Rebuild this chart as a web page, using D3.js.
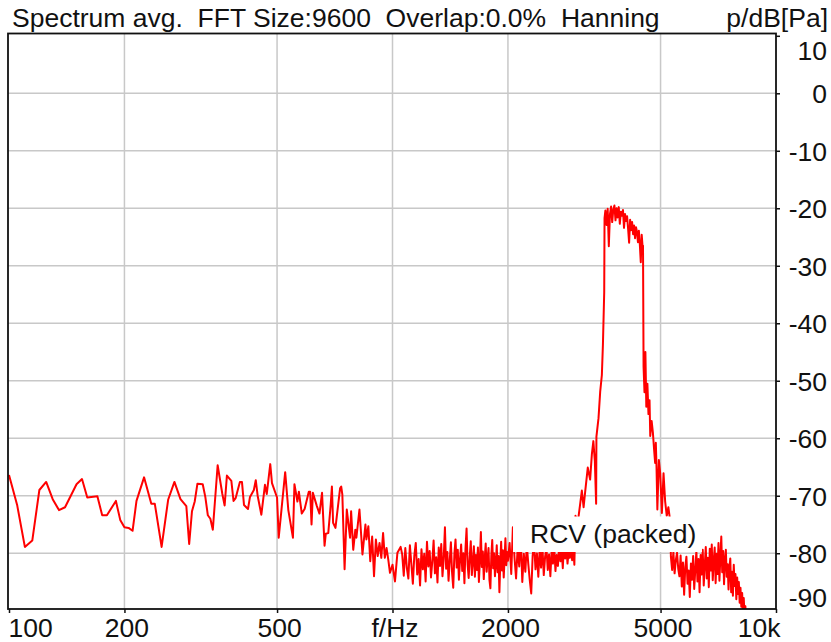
<!DOCTYPE html>
<html><head><meta charset="utf-8">
<script src="https://cdn.jsdelivr.net/npm/d3@7"></script>
<style>
body{margin:0;background:#fff;}
svg{display:block;font-family:"Liberation Sans",Arial,sans-serif;}
</style></head>
<body><svg id="c" width="831" height="642"></svg>
<script>
// ---- data ----
const titleText = "Spectrum avg.  FFT Size:9600  Overlap:0.0%  Hanning";
const unitText = "p/dB[Pa]";
const seriesLabel = "RCV (packed)";
const xTicks = [100, 200, 500, 1000, 2000, 5000, 10000];
const xTickLabels = ["100", "200", "500", "f/Hz", "2000", "5000", "10k"];
const yTicks = [10, 0, -10, -20, -30, -40, -50, -60, -70, -80, -90];
const yTickLabels = ["10", "0", "-10", "-20", "-30", "-40", "-50", "-60", "-70", "-80", "-90"];

// 100 - 1050 Hz (read vertex by vertex)
const lowHz = [100,105,110,115,120,125,130,135,140,150,155,160,170,175,180,190,195,200,205,210,215,225,235,240,250,260,270,280,290,295,300,305,310,320,325,330,335,340,350,360,365,370,380,385,390,400,405,410,420,425,435,440,445,455,465,470,480,485,500,505,525,535,550,555,565,570,580,590,605,610,615,620,635,645,655,665,670,680,690,695,700,710,720,730,735,740,750,760,775,780,790,800,805,820,835,850,855,865,875,885,895,905,915,925,935,945,955,965,975,985,1000,1015,1030,1050];
const lowDb = [-66.4,-71.6,-78.9,-77.8,-69.0,-67.6,-70.6,-72.5,-72.0,-68.0,-67.1,-70.3,-70.1,-73.4,-73.4,-70.9,-74.2,-75.5,-75.6,-76.1,-70.9,-66.8,-71.4,-71.4,-78.9,-70.7,-67.6,-70.6,-71.8,-78.4,-72.7,-71.0,-67.9,-68.0,-70.2,-73.4,-74.0,-75.9,-64.7,-69.7,-71.7,-66.5,-67.4,-70.9,-70.4,-67.6,-67.6,-71.6,-72.3,-70.2,-69.0,-67.3,-70.0,-73.3,-68.1,-69.7,-64.5,-67.8,-70.3,-77.3,-65.9,-72.5,-77.3,-68.0,-71.0,-69.3,-73.1,-72.3,-69.3,-69.3,-75.0,-69.5,-71.8,-73.1,-69.5,-78.7,-76.6,-76.5,-71.6,-68.4,-74.7,-75.6,-72.1,-68.7,-68.4,-69.8,-82.8,-72.4,-77.3,-72.7,-79.4,-75.9,-77.3,-72.4,-80.2,-75.0,-77.6,-75.3,-81.4,-77.1,-84.0,-77.6,-80.5,-78.2,-80.8,-76.5,-80.8,-79.1,-81.1,-83.4,-82.0,-84.9,-79.9,-78.9];

// 1060 - 1990 Hz, one value every 10 Hz
const midAStart = 1060, midAStep = 10;
const midADb = [-80.2,-83.9,-79.1,-82.6,-84.4,-78.6,-81.9,-85.3,-80.4,-78.2,-83.7,-81.0,-85.6,-79.3,-82.8,-80.1,-84.9,-78.0,-82.3,-79.6,-84.2,-81.4,-77.8,-83.5,-80.7,-85.1,-79.0,-82.2,-78.4,-84.0,-80.9,-75.5,-82.7,-79.8,-84.8,-81.3,-78.1,-83.4,-86.0,-80.2,-77.6,-82.5,-79.4,-84.6,-81.1,-78.5,-83.1,-80.0,-85.2,-79.2,-75.7,-82.0,-84.3,-80.6,-77.9,-83.8,-81.5,-78.8,-84.1,-80.3,-82.9,-79.0,-85.0,-81.2,-76.3,-82.4,-79.7,-84.5,-80.8,-78.3,-83.2,-81.0,-79.1,-84.7,-86.1,-80.4,-77.7,-82.6,-80.0,-84.0,-81.7,-78.6,-83.3,-80.5,-86.8,-81.8,-78.0,-83.0,-79.5,-84.2,-80.9,-77.4,-82.1,-79.8];

// 2000 - 2980 Hz, one value every 20 Hz
const midBStart = 2000, midBStep = 20;
const midBDb = [-81.3,-78.2,-83.6,-75.5,-80.7,-84.4,-79.0,-82.3,-77.2,-85.0,-80.1,-83.2,-78.6,-81.9,-84.7,-87.0,-80.4,-78.3,-82.8,-80.0,-84.1,-79.2,-82.5,-78.9,-83.8,-80.6,-79.0,-82.9,-80.2,-84.0,-79.5,-81.8,-78.7,-83.1,-80.3,-82.2,-78.6,-81.4,-79.3,-82.6,-78.4,-80.9,-78.9,-81.8,-79.6,-80.8,-78.7,-81.2,-79.0,-82.0];

// rising flank of the band
const riseHz = [3000,3040,3086,3117,3150,3180,3230,3276,3310,3340,3370,3396,3402,3445,3480,3515,3537,3565,3572];
const riseDb = [-73.5,-74.8,-71.4,-69.1,-72.0,-69.3,-65.1,-67.2,-62.8,-60.5,-64.0,-71.4,-59.7,-56.5,-51.9,-49.0,-43.8,-34.6,-21.7];

// plateau 3590 - 4490 Hz, every 25 Hz
const topStart = 3590, topStep = 25;
const topDb = [-20.4,-22.9,-20.1,-26.6,-21.0,-19.7,-22.4,-20.2,-19.5,-22.1,-20.0,-21.6,-19.8,-22.7,-20.6,-21.3,-20.3,-23.4,-21.0,-22.2,-21.4,-23.6,-26.0,-22.0,-23.8,-22.4,-24.5,-23.0,-25.2,-23.3,-24.1,-25.9,-23.9,-26.3,-29.4,-24.6,-26.8];

// falling flank
const fallHz = [4500,4515,4540,4565,4590,4620,4650,4680,4700,4740,4775,4810,4840,4860,4880,4905,4950,4990,5040,5090,5140,5190,5240,5300];
const fallDb = [-26.5,-47.5,-52.0,-45.0,-54.5,-50.5,-55.8,-53.4,-59.6,-57.0,-59.0,-62.0,-64.3,-60.8,-64.9,-72.4,-63.8,-66.1,-73.0,-66.1,-71.0,-73.5,-72.0,-74.5];

// 5320 - 8800 Hz, every 40 Hz
const highStart = 5320, highStep = 40;
const highDb = [-80.6,-82.9,-79.8,-83.5,-81.2,-79.9,-82.7,-84.0,-80.4,-85.8,-81.6,-87.2,-82.4,-80.6,-85.3,-83.0,-87.6,-81.8,-84.6,-80.5,-86.2,-82.8,-79.6,-84.9,-81.0,-86.8,-80.3,-83.7,-79.4,-85.6,-82.1,-78.9,-84.4,-80.8,-85.9,-79.2,-83.0,-78.5,-84.7,-81.3,-79.0,-85.2,-80.1,-83.6,-78.2,-84.8,-80.7,-77.1,-83.3,-79.6,-85.4,-81.1,-79.4,-84.1,-81.9,-86.3,-82.5,-80.9,-86.8,-83.2,-87.4,-82.0,-85.7,-83.6,-88.0,-84.2,-87.1,-85.0,-88.6,-86.0,-89.3,-86.9,-90.0,-87.8,-91.0,-89.2,-92.2,-90.6,-93.5,-92.0,-94.8,-93.4,-96.0,-95.0,-97.5,-96.5,-98.6,-99.5];

// ---- assemble series ----
const series = [];
lowHz.forEach((f, i) => series.push([f, lowDb[i]]));
midADb.forEach((v, i) => series.push([midAStart + i * midAStep, v]));
midBDb.forEach((v, i) => series.push([midBStart + i * midBStep, v]));
riseHz.forEach((f, i) => series.push([f, riseDb[i]]));
topDb.forEach((v, i) => series.push([topStart + i * topStep, v]));
fallHz.forEach((f, i) => series.push([f, fallDb[i]]));
highDb.forEach((v, i) => series.push([highStart + i * highStep, v]));

// ---- layout ----
const L = 8, R = 776, T = 33.5, B = 609;
const svg = d3.select("#c");
const x = d3.scaleLog().domain([100, 10000]).range([9, 776]);
const y = d3.scaleLinear().domain([-89.7, 10.4]).range([B, T]);
const FS = "26.5px";

svg.append("rect").attr("width", 831).attr("height", 642).attr("fill", "#fff");

// grid
const grid = svg.append("g").attr("stroke", "#c8c8c8").attr("stroke-width", 1.5);
grid.selectAll("line.v").data(xTicks.filter(d => d > 100 && d < 10000)).join("line")
  .attr("x1", d => x(d)).attr("x2", d => x(d)).attr("y1", T).attr("y2", B);
grid.selectAll("line.h").data(yTicks.filter(d => d < 10 && d > -90)).join("line")
  .attr("class", "h").attr("x1", L).attr("x2", R).attr("y1", d => y(d)).attr("y2", d => y(d));

// curve
svg.append("clipPath").attr("id", "clip").append("rect")
  .attr("x", L).attr("y", T).attr("width", R - L).attr("height", B - T);
const line = d3.line().x(d => x(d[0])).y(d => y(d[1]));
svg.append("path").datum(series).attr("clip-path", "url(#clip)")
  .attr("fill", "none").attr("stroke", "#ff0000").attr("stroke-width", 2)
  .attr("stroke-linejoin", "round").attr("d", line);

// series label with white box
svg.append("rect").attr("x", 513).attr("y", 516.5).attr("width", 189).attr("height", 35.5).attr("fill", "#fff");
svg.append("text").attr("x", 530).attr("y", 543).attr("font-size", FS).attr("fill", "#111").text(seriesLabel);

// frame
svg.append("rect").attr("x", L).attr("y", T).attr("width", R - L).attr("height", B - T)
  .attr("fill", "none").attr("stroke", "#111").attr("stroke-width", 1.8);

// right axis
const ya = svg.append("g").attr("transform", `translate(${R},0)`)
  .call(d3.axisRight(y).tickValues(yTicks).tickSize(4).tickFormat((d, i) => yTickLabels[i]));
ya.select(".domain").remove();
ya.selectAll(".tick line").attr("stroke", "#111").attr("stroke-width", 1.5)
  .attr("display", d => (d === -90 ? "none" : null));
ya.selectAll(".tick text").attr("x", 51).attr("text-anchor", "end").attr("font-size", FS)
  .attr("font-family", "Liberation Sans, Arial, sans-serif").attr("fill", "#111")
  .attr("dy", "0.36em").attr("y", d => (d === 10 ? 14.2 : d === -90 ? -13.8 : 0));

// bottom axis
const xa = svg.append("g").attr("transform", `translate(0,${B})`)
  .call(d3.axisBottom(x).tickValues(xTicks).tickSize(4).tickFormat((d, i) => xTickLabels[i]));
xa.select(".domain").remove();
xa.selectAll(".tick line").attr("stroke", "#111").attr("stroke-width", 1.5);
xa.selectAll(".tick text").attr("font-size", FS).attr("font-family", "Liberation Sans, Arial, sans-serif")
  .attr("fill", "#111").attr("dy", null).attr("y", 28)
  .attr("text-anchor", d => (d === 100 ? "start" : d === 10000 ? "end" : "middle"))
  .attr("x", d => (d === 100 ? -1 : d === 10000 ? 4 : 2));

// title
svg.append("text").attr("x", 12).attr("y", 27).attr("font-size", FS).attr("fill", "#111")
  .style("white-space", "pre").text(titleText);
svg.append("text").attr("x", 828).attr("y", 27).attr("font-size", FS).attr("fill", "#111")
  .attr("text-anchor", "end").text(unitText);
</script></body></html>
